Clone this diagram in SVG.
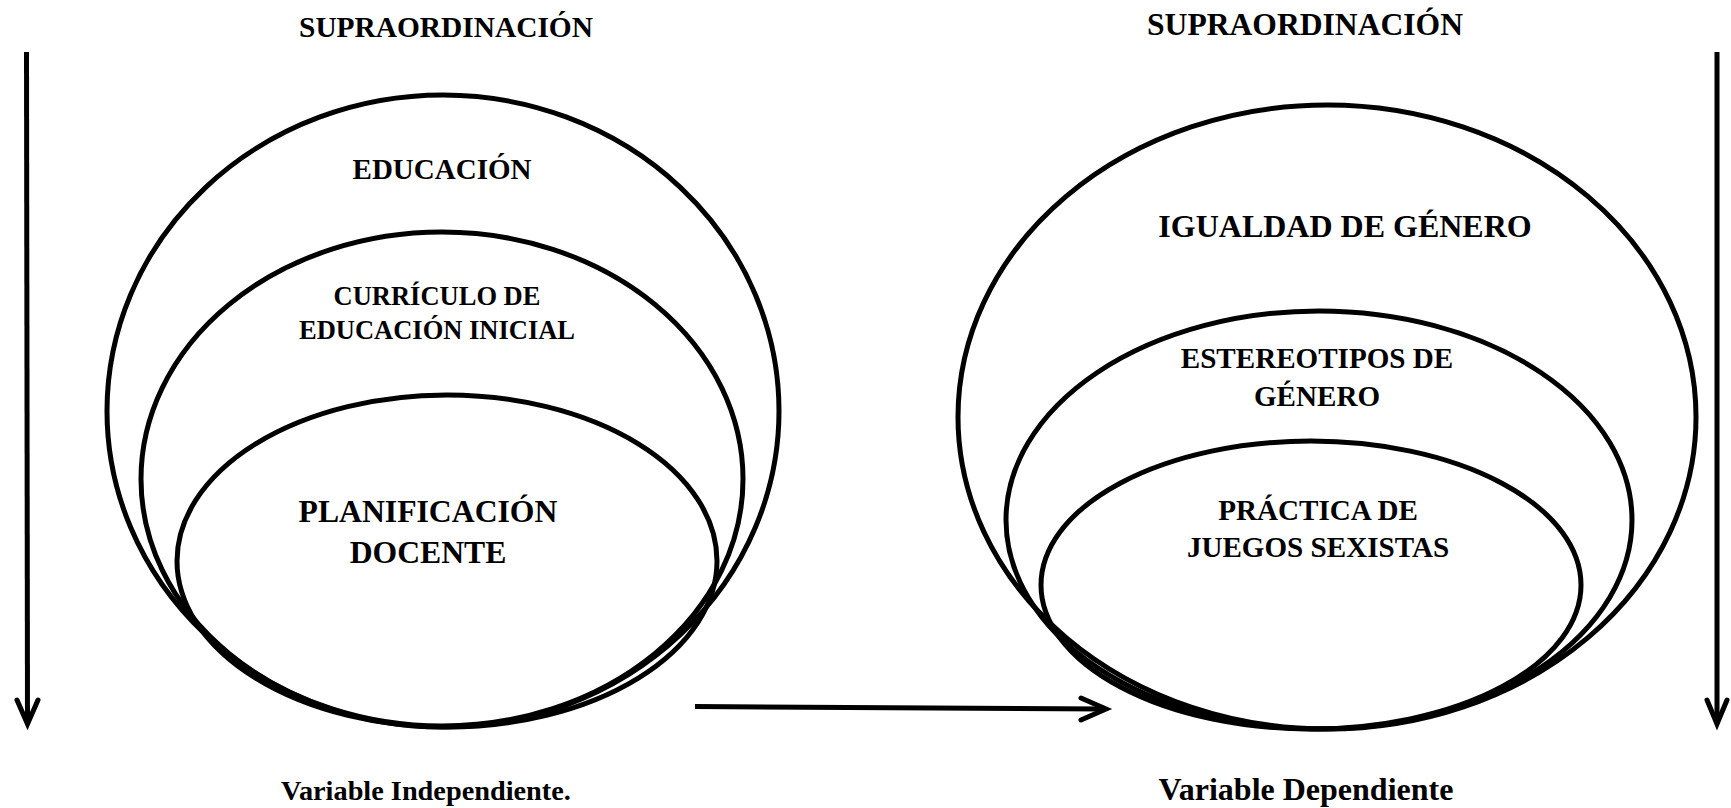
<svg xmlns="http://www.w3.org/2000/svg" width="1731" height="808" viewBox="0 0 1731 808">
<style>
.t{font-family:"Liberation Serif","Times New Roman",serif;font-weight:bold;fill:#000;text-anchor:middle}
.e{fill:none;stroke:#000;stroke-width:5}
.c{fill:none;stroke:#000;stroke-width:5;stroke-linecap:butt}
.h{fill:none;stroke:#000;stroke-width:5;stroke-linecap:round;stroke-linejoin:miter}
</style>
<rect width="1731" height="808" fill="#fff"/>
<g id="left-titles">
<text class="t" x="426" y="800" font-size="28.3">Variable Independiente.</text>
<text class="t" x="446" y="37" font-size="29.4">SUPRAORDINACIÓN</text>
</g>
<g id="right-titles">
<text class="t" x="1305" y="35" font-size="31.6">SUPRAORDINACIÓN</text>
<text class="t" x="1306" y="800" font-size="32">Variable Dependiente</text>
</g>
<g id="educacion">
<ellipse class="e" cx="443" cy="411" rx="336" ry="316"/>
<text class="t" x="442" y="179" font-size="29">EDUCACIÓN</text>
</g>
<g id="curriculo">
<ellipse class="e" cx="442" cy="479" rx="301" ry="247"/>
<text class="t" x="437" y="305" font-size="26.5">CURRÍCULO DE</text>
<text class="t" x="437" y="339" font-size="26.5">EDUCACIÓN INICIAL</text>
</g>
<g id="planificacion">
<ellipse class="e" cx="447" cy="561" rx="270" ry="166"/>
<text class="t" x="428" y="522" font-size="31.7">PLANIFICACIÓN</text>
<text class="t" x="428" y="563" font-size="31.7">DOCENTE</text>
</g>
<g id="igualdad">
<ellipse class="e" cx="1327" cy="417" rx="369" ry="312"/>
<text class="t" x="1345" y="237" font-size="32">IGUALDAD DE GÉNERO</text>
</g>
<g id="estereotipos">
<ellipse class="e" cx="1319" cy="520" rx="313" ry="209"/>
<text class="t" x="1317" y="368" font-size="29.1">ESTEREOTIPOS DE</text>
<text class="t" x="1317" y="406" font-size="29.1">GÉNERO</text>
</g>
<g id="practica">
<ellipse class="e" cx="1311" cy="585" rx="270" ry="144"/>
<text class="t" x="1318" y="520" font-size="29.1">PRÁCTICA DE</text>
<text class="t" x="1318" y="557" font-size="29.1">JUEGOS SEXISTAS</text>
</g>
<g id="connectors">
<line class="c" x1="26.5" y1="52" x2="27.5" y2="722"/>
<polyline class="h" points="17,700 27.5,724 38,700"/>
<line class="c" x1="1717" y1="52" x2="1717" y2="722"/>
<polyline class="h" points="1707,700 1717,724 1727,700"/>
<line class="c" x1="695" y1="706.5" x2="1104" y2="709"/>
<polyline class="h" points="1081,698 1106,709 1081,720"/>
</g>
</svg>
